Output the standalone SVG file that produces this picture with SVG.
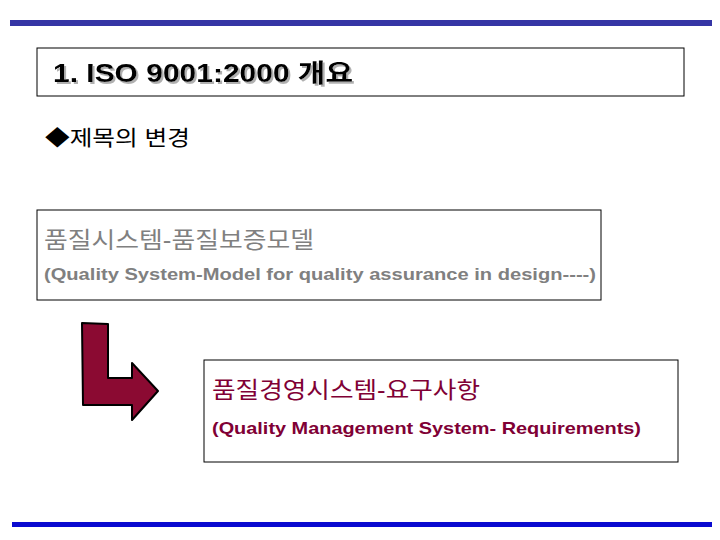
<svg xmlns="http://www.w3.org/2000/svg" width="720" height="540" viewBox="0 0 720 540">
<style>
.box{fill:#fff;stroke:#000;stroke-width:1}
.ko{font-family:"Liberation Sans","Noto Sans CJK KR",sans-serif}
.en{font-family:"Liberation Sans","Noto Sans CJK KR",sans-serif;font-weight:bold;font-size:17px}
</style>
<defs>
<filter id="shadow" x="-5%" y="-20%" width="110%" height="150%">
<feDropShadow dx="2" dy="2" stdDeviation="0" flood-color="#b0b0b0" flood-opacity="1"/>
</filter>
</defs>
<rect x="0" y="0" width="720" height="540" fill="#fff"/>
<rect x="10" y="20" width="702" height="6" fill="#3535a5"/>
<rect x="12" y="522" width="700" height="5" fill="#0a0ad0"/>
<g id="title">
<rect class="box" x="37" y="48" width="647" height="48"/>
<text class="ko" x="53" y="82" font-size="25" font-weight="bold" fill="#000" filter="url(#shadow)" textLength="300" lengthAdjust="spacingAndGlyphs">1. ISO 9001:2000 개요</text>
</g>
<g id="subtitle">
<text class="ko" x="45" y="145" font-size="21" fill="#000" textLength="145" lengthAdjust="spacingAndGlyphs">◆제목의 변경</text>
</g>
<g id="old">
<rect class="box" x="37" y="210" width="564" height="90"/>
<text class="ko" x="44" y="248" font-size="23" fill="#808080" textLength="270" lengthAdjust="spacingAndGlyphs">품질시스템-품질보증모델</text>
<text class="en" x="44" y="280" fill="#808080" textLength="552" lengthAdjust="spacingAndGlyphs">(Quality System-Model for quality assurance in design----)</text>
</g>
<g id="connectors">
<path d="M82,323 L108,324 L108,378 L132,378 L132,363 L158,391 L132,420 L132,405 L83,405 Z" fill="#8b0a32" stroke="#000" stroke-width="2" stroke-linejoin="round"/>
</g>
<g id="new">
<rect class="box" x="204" y="360" width="474" height="102"/>
<text class="ko" x="212" y="398" font-size="23" fill="#800035" textLength="268" lengthAdjust="spacingAndGlyphs">품질경영시스템-요구사항</text>
<text class="en" x="212" y="434" fill="#800035" textLength="429" lengthAdjust="spacingAndGlyphs">(Quality Management System- Requirements)</text>
</g>
</svg>
